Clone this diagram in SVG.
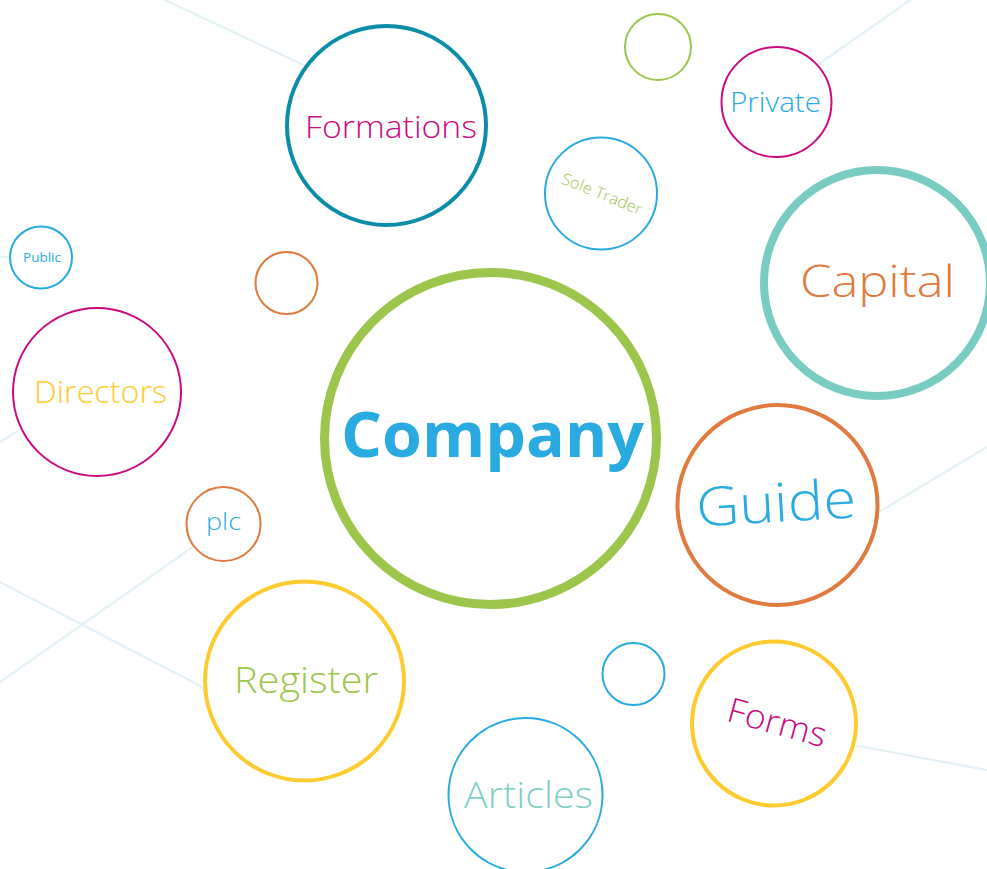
<svg xmlns="http://www.w3.org/2000/svg" width="987" height="869" viewBox="0 0 987 869">
<style>
.bg{fill:#ffffff}
.ln{stroke:#e3f2f6;stroke-width:2.2;fill:none;stroke-linecap:round}
.c{fill:#ffffff}
.t{font-family:"Open Sans","Noto Sans","DejaVu Sans",sans-serif;font-weight:300;text-anchor:middle}
.b{font-weight:700}
.n{font-weight:400}
.blue{fill:#29abe2}
.mag{fill:#cc0a80}
.grn{fill:#9cc54b}
.org{fill:#e07a3f}
.yel{fill:#fdcb30}
.tea{fill:#7fcfc4}
</style>
<rect class="bg" x="0" y="0" width="987" height="869"/>
<g id="connectors">
<line class="ln" x1="165" y1="0" x2="312" y2="69"/>
<line class="ln" x1="910" y1="0" x2="816" y2="66"/>
<line class="ln" x1="0" y1="257" x2="12" y2="257"/>
<line class="ln" x1="0" y1="442" x2="24" y2="427"/>
<line class="ln" x1="0" y1="582" x2="208" y2="690"/>
<line class="ln" x1="0" y1="682" x2="197" y2="544"/>
<line class="ln" x1="987" y1="447" x2="874" y2="515"/>
<line class="ln" x1="853" y1="745" x2="987" y2="770"/>
</g>
<g id="formations">
<circle class="c" cx="386.5" cy="125.5" r="99.5" stroke="#0b8ca8" stroke-width="4"/>
<text class="t mag" x="391" y="138" font-size="32" textLength="172" lengthAdjust="spacingAndGlyphs">Formations</text>
</g>
<g id="dot-green">
<circle class="c" cx="658" cy="47" r="33" stroke="#9cc54b" stroke-width="2"/>
</g>
<g id="private">
<circle class="c" cx="776.5" cy="102" r="55" stroke="#cc0a80" stroke-width="2"/>
<text class="t blue" x="775.5" y="112" font-size="27" textLength="91" lengthAdjust="spacingAndGlyphs">Private</text>
</g>
<g id="sole-trader">
<circle class="c" cx="601" cy="193.5" r="56" stroke="#29abe2" stroke-width="2"/>
<text class="t grn" x="0" y="0" font-size="16" textLength="86" lengthAdjust="spacingAndGlyphs" transform="translate(600,199) rotate(22)">Sole Trader</text>
</g>
<g id="capital">
<circle class="c" cx="877" cy="283" r="113" stroke="#79ccc2" stroke-width="8"/>
<text class="t org" x="877.5" y="297" font-size="45" textLength="155" lengthAdjust="spacingAndGlyphs">Capital</text>
</g>
<g id="public">
<circle class="c" cx="41" cy="257.5" r="31" stroke="#29abe2" stroke-width="2"/>
<text class="t n blue" x="42" y="262" font-size="13" textLength="38" lengthAdjust="spacingAndGlyphs">Public</text>
</g>
<g id="dot-orange">
<circle class="c" cx="286.5" cy="283" r="31" stroke="#e07a3f" stroke-width="2"/>
</g>
<g id="directors">
<circle class="c" cx="97" cy="392" r="84" stroke="#cc0a80" stroke-width="2"/>
<text class="t yel" x="100.5" y="403" font-size="31" textLength="133" lengthAdjust="spacingAndGlyphs">Directors</text>
</g>
<g id="company">
<circle class="c" cx="490.5" cy="438.5" r="166" stroke="#9cc54b" stroke-width="9"/>
<text class="t b blue" x="492.5" y="457" font-size="62" textLength="303" lengthAdjust="spacingAndGlyphs">Company</text>
</g>
<g id="guide">
<circle class="c" cx="777.5" cy="505" r="100" stroke="#e07a3f" stroke-width="4"/>
<text class="t blue" x="0" y="0" font-size="54" textLength="160" lengthAdjust="spacingAndGlyphs" transform="translate(777,522) rotate(-3.3)">Guide</text>
</g>
<g id="plc">
<circle class="c" cx="223.5" cy="524" r="37" stroke="#e07a3f" stroke-width="2"/>
<text class="t blue" x="223.5" y="530" font-size="23" textLength="35" lengthAdjust="spacingAndGlyphs">plc</text>
</g>
<g id="register">
<circle class="c" cx="304.5" cy="681" r="99.5" stroke="#fdcb30" stroke-width="4"/>
<text class="t grn" x="306" y="693" font-size="37" textLength="144" lengthAdjust="spacingAndGlyphs">Register</text>
</g>
<g id="dot-blue">
<circle class="c" cx="633.5" cy="674" r="31" stroke="#29abe2" stroke-width="2"/>
</g>
<g id="forms">
<circle class="c" cx="774" cy="723.5" r="82" stroke="#fdcb30" stroke-width="4"/>
<text class="t mag" x="0" y="0" font-size="34" textLength="101" lengthAdjust="spacingAndGlyphs" transform="translate(774,734) rotate(15.5)">Forms</text>
</g>
<g id="articles">
<circle class="c" cx="525.5" cy="795" r="77" stroke="#29abe2" stroke-width="2"/>
<text class="t tea" x="528.5" y="808" font-size="36" textLength="129" lengthAdjust="spacingAndGlyphs">Articles</text>
</g>
</svg>
